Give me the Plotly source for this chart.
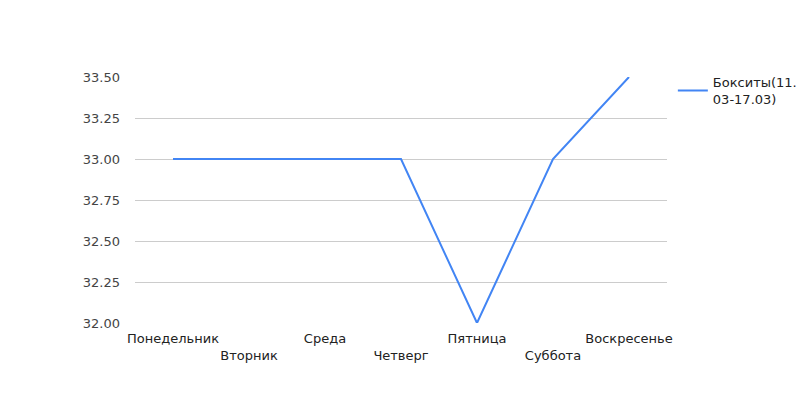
import plotly.graph_objects as go

days = ["Понедельник", "Вторник", "Среда", "Четверг", "Пятница", "Суббота", "Воскресенье"]
values = [33, 33, 33, 33, 32, 33, 33.5]
series_name = "Бокситы(11.<br>03-17.03)"
y_ticks = [32.0, 32.25, 32.5, 32.75, 33.0, 33.25, 33.5]

positions = list(range(len(days)))
tick_text = [d if i % 2 == 0 else "<br>" + d for i, d in enumerate(days)]

FONT = "DejaVu Sans, sans-serif"

fig = go.Figure()
fig.add_trace(go.Scatter(
    x=positions, y=values, mode="lines", name=series_name,
    line=dict(color="#4285F4", width=2), showlegend=True,
))

fig.update_layout(
    width=800, height=400,
    margin=dict(l=135, r=133, t=77, b=77, autoexpand=False),
    paper_bgcolor="white", plot_bgcolor="white",
    font=dict(family=FONT, size=13, color="#444"),
    showlegend=True,
    legend=dict(x=1.011, y=1.04, xanchor="left", yanchor="top",
                font=dict(family=FONT, size=13, color="#222"),
                bgcolor="rgba(0,0,0,0)", itemwidth=30),
    xaxis=dict(range=[-0.5, 6.5], tickvals=positions, ticktext=tick_text,
               tickangle=0, showgrid=False, zeroline=False, showline=False,
               ticks="", ticklabelstandoff=6,
               tickfont=dict(family=FONT, size=13, color="#222")),
    yaxis=dict(range=[32, 33.5], tickvals=y_ticks, tickformat=".2f",
               showgrid=True, gridcolor="#cccccc", gridwidth=1,
               zeroline=False, showline=False, ticks="", ticklabelstandoff=14,
               tickfont=dict(family=FONT, size=13, color="#444")),
)

fig.write_html("out.html")
